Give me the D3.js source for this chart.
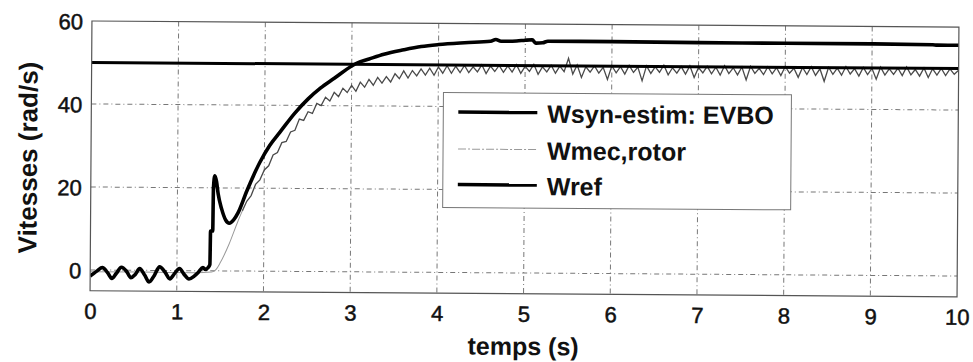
<!DOCTYPE html>
<html>
<head>
<meta charset="utf-8">
<script src="https://cdn.jsdelivr.net/npm/d3@7"></script>
<style>
  body { margin: 0; background: #fff; }
  text { font-family: "Liberation Sans", Arial, Helvetica, sans-serif; fill: #111; }
</style>
</head>
<body>
<div id="chart"></div>
<script>
// values
const xTicks = [0, 1, 2, 3, 4, 5, 6, 7, 8, 9, 10];
const yTicks = [0, 20, 40, 60];

const wrefT = [0, 10];
const wrefV = [50, 50];

const wsynT = [0, 0.03, 0.08, 0.14, 0.2, 0.25, 0.3, 0.36, 0.42, 0.47, 0.52, 0.57, 0.63, 0.68, 0.74, 0.8,
  0.86, 0.92, 0.97, 1.03, 1.08, 1.14, 1.2, 1.25, 1.3, 1.33, 1.36, 1.38, 1.385, 1.41, 1.415, 1.43, 1.45,
  1.47, 1.51, 1.56, 1.6, 1.65, 1.7, 1.8, 1.95, 2.06, 2.18, 2.35, 2.5, 2.64, 2.8, 3.0, 3.05, 3.2, 3.37, 3.6,
  3.8, 4.0, 4.3, 4.6, 4.66, 4.72, 4.9, 5.0, 5.08, 5.12, 5.2, 5.26, 6, 7, 8, 9, 9.7, 9.75, 10];
const wsynV = [-1.5, -1.0, -0.2, 0.6, -0.6, -2.0, -0.8, 0.7, -0.3, -1.8, -1.0, 0.4, -1.2, -2.8, -1.2, 0.9,
  -0.3, -2.0, -0.8, 0.5, -0.8, -2.0, -1.3, -0.3, 0.8, 0.3, 0.8, 1.5, 9.6, 9.6, 20, 22.9, 21.5,
  18.5, 15, 12.2, 11.5, 12.3, 14, 19.3, 26.3, 30.3, 33.6, 38.2, 41.6, 44.2, 46.6, 49.6, 50.2, 51.3, 52.5, 53.6,
  54.4, 54.9, 55.4, 55.8, 56.2, 55.8, 55.9, 56.1, 56.2, 55.4, 55.5, 55.9, 55.9, 55.8, 55.8, 55.8, 55.7, 55.6, 55.6];

// Wmec before the noise shows up
const mecT = [0, 0.6, 1.2, 1.4, 1.45, 1.5, 1.6, 1.7, 1.75];
const mecV = [-0.4, -0.4, -0.5, -0.3, 0.3, 2, 6.5, 12, 14.5];
// Wmec from 1.8 s on, one sample every 0.05 s
const mecNoiseT0 = 1.8, mecNoiseDt = 0.05;
const mecNoiseV = [
  16.8, 18.2, 20.9, 22.0, 24.4, 25.4, 28.0, 28.6, 31.0, 31.3,
  33.6, 34.0, 36.7, 36.4, 38.5, 38.1, 40.5, 40.0, 42.0, 41.1,
  43.2, 42.2, 44.2, 43.2, 44.9, 43.5, 45.7, 44.5, 46.4, 45.0,
  46.9, 45.5, 47.1, 45.8, 47.8, 46.6, 48.5, 46.8, 48.6, 47.3,
  49.0, 47.5, 49.2, 47.5, 49.5, 48.0, 49.8, 48.0, 49.7, 48.2,
  49.9, 48.2, 49.6, 48.4, 50.1, 48.0, 49.8, 48.5, 50.0, 48.3,
  49.9, 48.4, 50.2, 48.1, 49.8, 48.6, 50.3, 47.9, 49.7, 48.5,
  50.1, 48.2, 49.9, 48.6, 51.8, 48.0, 50.2, 47.2, 49.8, 48.5,
  50.0, 48.3, 49.7, 46.8, 50.1, 48.4, 49.9, 48.1, 50.2, 48.5,
  49.8, 46.5, 50.1, 48.3, 49.9, 48.6, 50.3, 48.0, 49.7, 48.4,
  50.0, 48.2, 50.2, 47.4, 49.8, 48.5, 50.1, 48.3, 49.9, 48.0,
  50.3, 48.4, 49.8, 48.1, 50.0, 46.9, 50.2, 48.5, 49.7, 48.2,
  50.1, 48.4, 49.9, 48.0, 50.2, 48.6, 49.8, 47.6, 50.0, 48.3,
  50.2, 48.1, 49.7, 46.7, 50.1, 48.4, 49.9, 48.2, 50.3, 48.5,
  49.8, 48.0, 50.1, 48.4, 49.9, 47.3, 50.2, 48.3, 49.8, 48.5,
  50.0, 48.2, 50.3, 48.4, 49.7, 48.1, 50.1, 47.8, 49.9, 48.4,
  50.0, 48.3, 49.9, 48.6, 49.6];

const legendLabels = ["Wsyn-estim: EVBO", "Wmec,rotor", "Wref"];

const width = 973, height = 362;
const frame = { left: 91, right: 958, top: 24, bottom: 293.75 };

const svg = d3.select("#chart").append("svg")
  .attr("width", width)
  .attr("height", height)
  .style("background", "#fff");

// the scan is a little tilted
const g = svg.append("g")
  .attr("transform", "rotate(0.4," + [524, 158] + ")");

const x = d3.scaleLinear().domain([0, 10]).range([frame.left, frame.right]);
const y = d3.scaleLinear().domain([-5, 60]).range([frame.bottom, frame.top]);

g.append("defs").append("clipPath")
  .attr("id", "clip")
  .append("rect")
  .attr("x", frame.left)
  .attr("y", frame.top)
  .attr("width", frame.right - frame.left)
  .attr("height", frame.bottom - frame.top);

// grid
g.append("g").selectAll("line")
  .data(xTicks.slice(1, -1))
  .enter().append("line")
  .attr("x1", d => x(d)).attr("x2", d => x(d))
  .attr("y1", frame.top).attr("y2", frame.bottom)
  .attr("stroke", "#777").attr("stroke-width", 1)
  .attr("stroke-dasharray", "5,3,1,3");

g.append("g").selectAll("line")
  .data(yTicks.slice(0, -1))
  .enter().append("line")
  .attr("x1", frame.left).attr("x2", frame.right)
  .attr("y1", d => y(d)).attr("y2", d => y(d))
  .attr("stroke", "#777").attr("stroke-width", 1)
  .attr("stroke-dasharray", "5,3,1,3");

const line = d3.line().x(d => x(d[0])).y(d => y(d[1]));
const smoothLine = d3.line().x(d => x(d[0])).y(d => y(d[1])).curve(d3.curveMonotoneX);

const plot = g.append("g").attr("clip-path", "url(#clip)");

const mecSmooth = mecT.map((t, i) => [t, mecV[i]]);
const mecNoisy = mecNoiseV.map((v, i) => [mecNoiseT0 + i * mecNoiseDt, v]);

plot.append("path")
  .attr("d", smoothLine(mecSmooth))
  .attr("fill", "none")
  .attr("stroke", "#999")
  .attr("stroke-width", 1);

plot.append("path")
  .attr("d", line([mecSmooth[mecSmooth.length - 1]].concat(mecNoisy)))
  .attr("fill", "none")
  .attr("stroke", "#4a4a4a")
  .attr("stroke-width", 1.3);

plot.append("path")
  .attr("d", line(wrefT.map((t, i) => [t, wrefV[i]])))
  .attr("fill", "none")
  .attr("stroke", "#000")
  .attr("stroke-width", 3);

plot.append("path")
  .attr("d", smoothLine(wsynT.map((t, i) => [t, wsynV[i]])))
  .attr("fill", "none")
  .attr("stroke", "#000")
  .attr("stroke-width", 3.6)
  .attr("stroke-linejoin", "round");

// frame
g.append("rect")
  .attr("x", frame.left).attr("y", frame.top)
  .attr("width", frame.right - frame.left)
  .attr("height", frame.bottom - frame.top)
  .attr("fill", "none")
  .attr("stroke", "#555")
  .attr("stroke-width", 1.2);

// axes
const xAxis = d3.axisBottom(x).tickValues(xTicks).tickSize(0).tickPadding(0).tickFormat(d3.format("d"));
const yAxis = d3.axisLeft(y).tickValues(yTicks).tickSize(0).tickPadding(9);

const xAxisElem = g.append("g")
  .attr("transform", "translate(0," + frame.bottom + ")")
  .call(xAxis);
xAxisElem.select(".domain").remove();
xAxisElem.selectAll("text")
  .attr("dy", null)
  .attr("y", 28)
  .style("font-size", "22px")
  .style("stroke", "#111").style("stroke-width", 0.5);

const yAxisElem = g.append("g")
  .attr("transform", "translate(" + frame.left + ",0)")
  .call(yAxis);
yAxisElem.select(".domain").remove();
yAxisElem.selectAll("text")
  .attr("dy", "0.36em")
  .style("font-size", "22px")
  .style("stroke", "#111").style("stroke-width", 0.5);

g.append("text")
  .attr("text-anchor", "middle")
  .attr("x", (frame.left + frame.right) / 2)
  .attr("y", 355)
  .style("font-size", "25px")
  .style("font-weight", "bold")
  .text("temps (s)");

g.append("text")
  .attr("text-anchor", "middle")
  .attr("transform", "translate(37," + 161 + ") rotate(-90)")
  .style("font-size", "26px")
  .style("font-weight", "bold")
  .text("Vitesses (rad/s)");

// legend
const legend = g.append("g");
legend.append("rect")
  .attr("x", 443).attr("y", 93)
  .attr("width", 348).attr("height", 115)
  .attr("fill", "#fff")
  .attr("stroke", "#777")
  .attr("stroke-width", 1);

const rows = legend.selectAll("g.row")
  .data(legendLabels)
  .enter().append("g")
  .attr("class", "row")
  .attr("transform", (d, i) => "translate(0," + [122.5, 159.5, 195][i] + ")");

rows.append("line")
  .attr("x1", 458).attr("x2", 537)
  .attr("y1", -10).attr("y2", -10)
  .attr("stroke", (d, i) => i === 1 ? "#999" : "#000")
  .attr("stroke-width", (d, i) => i === 1 ? 1 : 3.5)
  .attr("stroke-dasharray", (d, i) => i === 1 ? "8,2,2,2" : null);

rows.append("text")
  .attr("x", 547)
  .style("font-size", "25px")
  .style("font-weight", "bold")
  .text(d => d);
</script>
</body>
</html>
